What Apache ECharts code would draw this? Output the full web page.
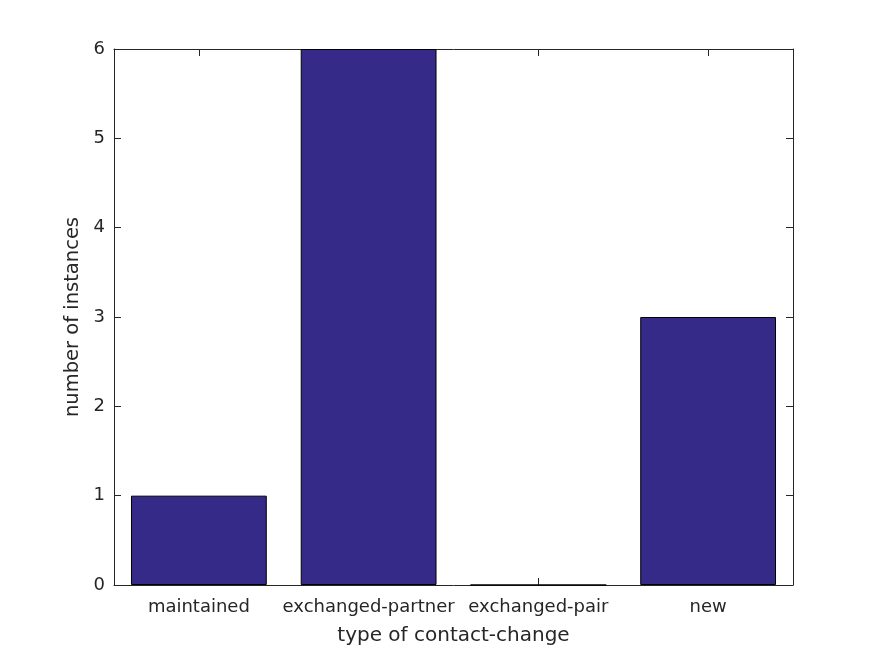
<!DOCTYPE html>
<html>
<head>
<meta charset="utf-8">
<script src="https://cdn.jsdelivr.net/npm/echarts@6/dist/echarts.min.js"></script>
<style>html,body{margin:0;padding:0;background:#fff}#c{width:875px;height:656px}</style>
</head>
<body>
<div id="c"></div>
<script>
const categories = ['maintained', 'exchanged-partner', 'exchanged-pair', 'new'];
const values = [1, 6, 0, 3];
const yTicks = [0, 1, 2, 3, 4, 5, 6];

const font = '"DejaVu Sans", "Liberation Sans", Arial, sans-serif';
const txt = '#262626';
const chart = echarts.init(document.getElementById('c'));
chart.setOption({
  animation: false,
  backgroundColor: '#fff',
  grid: { left: 114, right: 82, top: 49, bottom: 71, containLabel: false },
  xAxis: [{
    type: 'category', data: categories, position: 'bottom',
    name: 'type of contact-change', nameLocation: 'middle', nameGap: 41,
    nameTextStyle: { fontFamily: font, fontSize: 20, color: txt },
    axisLine: { show: true, lineStyle: { color: '#262626', width: 1 } },
    axisTick: { show: true, inside: true, length: 7, alignWithLabel: true, lineStyle: { color: '#262626' } },
    axisLabel: { fontFamily: font, fontSize: 18, color: txt, margin: 13, interval: 0 },
    splitLine: { show: false }
  }, {
    type: 'category', data: categories, position: 'top',
    axisLine: { show: true, onZero: false, lineStyle: { color: '#262626', width: 1 } },
    axisTick: { show: true, inside: true, length: 7, alignWithLabel: true, lineStyle: { color: '#262626' } },
    axisLabel: { show: false }, splitLine: { show: false }
  }],
  yAxis: [{
    type: 'value', min: 0, max: 6, interval: 1, position: 'left',
    name: 'number of instances', nameLocation: 'middle', nameGap: 27, nameRotate: 90,
    nameTextStyle: { fontFamily: font, fontSize: 19.5, color: txt },
    axisLine: { show: true, lineStyle: { color: '#262626', width: 1 } },
    axisTick: { show: true, inside: true, length: 7, lineStyle: { color: '#262626' } },
    axisLabel: { fontFamily: font, fontSize: 18, color: txt, margin: 9,
      formatter: v => yTicks.includes(v) ? String(v) : '' },
    splitLine: { show: false }
  }, {
    type: 'value', min: 0, max: 6, interval: 1, position: 'right',
    axisLine: { show: true, onZero: false, lineStyle: { color: '#262626', width: 1 } },
    axisTick: { show: true, inside: true, length: 7, lineStyle: { color: '#262626' } },
    axisLabel: { show: false }, splitLine: { show: false }
  }],
  series: [{
    type: 'bar', data: values, barWidth: '80%',
    itemStyle: { color: '#352a87', borderColor: '#000', borderWidth: 1 }
  }]
});
</script>
</body>
</html>
